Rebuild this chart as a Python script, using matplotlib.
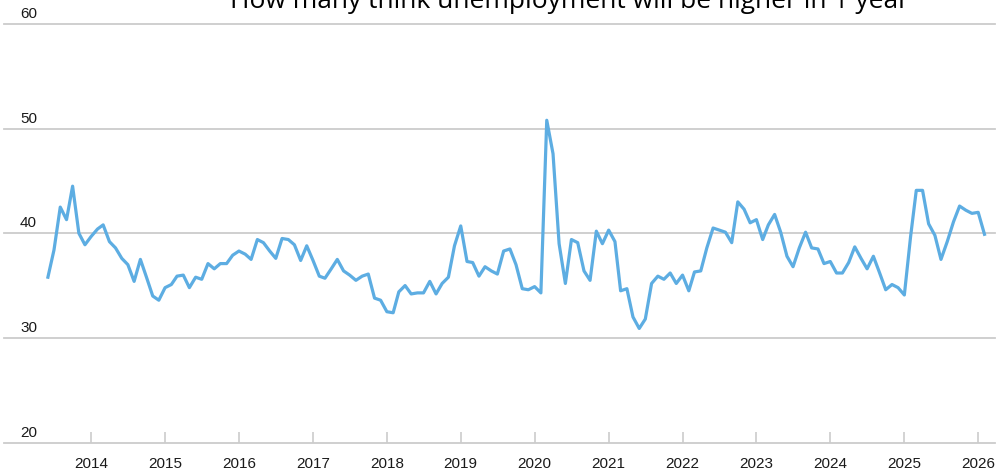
import matplotlib
matplotlib.use("Agg")
import matplotlib.pyplot as plt
import pandas as pd

title = "How many think unemployment will be higher in 1 year"
start_month = "2013-06-01"
values = [
    35.8, 38.4, 42.5, 41.3, 44.5, 40.0, 38.9,                   # 2013 Jun-Dec
    39.7, 40.4, 40.8, 39.2, 38.6, 37.6, 37.0, 35.4, 37.5, 35.8, 34.0, 33.6,  # 2014
    34.8, 35.1, 35.9, 36.0, 34.8, 35.8, 35.6, 37.1, 36.6, 37.1, 37.1, 37.9,  # 2015
    38.3, 38.0, 37.5, 39.4, 39.1, 38.3, 37.6, 39.5, 39.4, 38.9, 37.4, 38.8,  # 2016
    37.4, 35.9, 35.7, 36.6, 37.5, 36.4, 36.0, 35.5, 35.9, 36.1, 33.8, 33.6,  # 2017
    32.5, 32.4, 34.4, 35.0, 34.2, 34.3, 34.3, 35.4, 34.2, 35.2, 35.8, 38.8,  # 2018
    40.7, 37.3, 37.2, 35.9, 36.8, 36.4, 36.1, 38.3, 38.5, 37.0, 34.7, 34.6,  # 2019
    34.9, 34.3, 50.8, 47.6, 39.0, 35.2, 39.4, 39.1, 36.4, 35.5, 40.2, 39.0,  # 2020
    40.3, 39.2, 34.5, 34.7, 32.0, 30.9, 31.8, 35.2, 35.9, 35.6, 36.2, 35.2,  # 2021
    36.0, 34.5, 36.3, 36.4, 38.6, 40.5, 40.3, 40.1, 39.1, 43.0, 42.3, 41.0,  # 2022
    41.3, 39.4, 40.8, 41.8, 40.1, 37.8, 36.8, 38.6, 40.1, 38.6, 38.5, 37.1,  # 2023
    37.3, 36.2, 36.2, 37.2, 38.7, 37.6, 36.6, 37.8, 36.2, 34.6, 35.1, 34.8,  # 2024
    34.1, 39.7, 44.1, 44.1, 40.9, 39.8, 37.5, 39.2, 41.1, 42.6, 42.2, 41.9,  # 2025
    42.0, 39.9,                                                  # 2026
]
y_ticks = [20, 30, 40, 50, 60]
x_years = list(range(2014, 2027))

dates = pd.date_range(start_month, periods=len(values), freq="MS")

W, H = 999, 476
fig = plt.figure(figsize=(W / 100, H / 100), dpi=100)
left_px, right_px = 4, 995
top_px, bottom_px = 24, 442.5
ax = fig.add_axes([left_px / W, 1 - bottom_px / H,
                   (right_px - left_px) / W, (bottom_px - top_px) / H])

grid_col = "#cccccc"
for yv in y_ticks:
    ax.axhline(yv, color=grid_col, lw=1.3, zorder=1, clip_on=False)
    ax.annotate(str(yv), xy=(16 / (right_px - left_px), yv),
                xycoords=ax.get_yaxis_transform(),
                xytext=(0, 4.3), textcoords="offset points",
                ha="left", va="baseline", fontsize=11,
                family="Liberation Sans", color="#1a1a1a")

ax.plot(dates, values, color="#5dade2", lw=2.3, zorder=3,
        solid_joinstyle="round")

ax.set_ylim(20, 60)
ax.set_xlim(pd.Timestamp("2012-10-27"), pd.Timestamp("2026-03-25"))
ax.set_yticks([])
ax.set_xticks([pd.Timestamp(f"{y}-01-01") for y in x_years])
ax.set_xticklabels([str(y) for y in x_years], family="Liberation Sans",
                   fontsize=11, color="#1a1a1a")
ax.tick_params(axis="x", direction="in", length=8, width=1.2,
               color=grid_col, pad=10.5)
for s in ax.spines.values():
    s.set_visible(False)
ax.patch.set_alpha(0)

fig.text(569.5 / W, 1 - 7.5 / H, title, ha="center", va="baseline",
         fontsize=19, family="Open Sans", color="#000000")

fig.savefig("out.png", dpi=100)
